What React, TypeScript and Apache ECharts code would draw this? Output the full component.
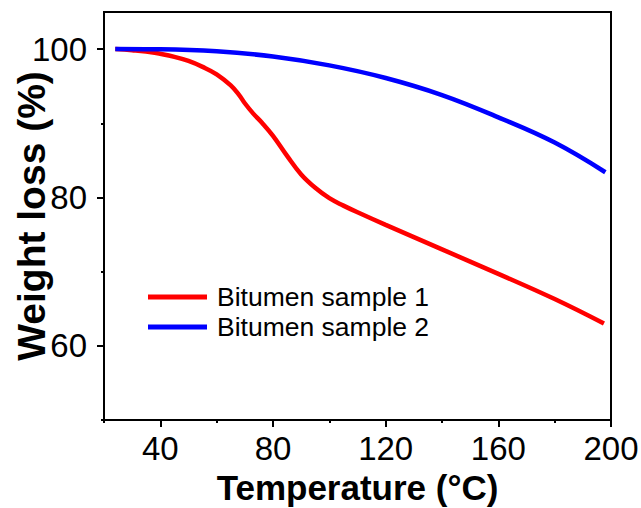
import React, { useEffect, useRef } from "react";
import * as echarts from "echarts";

const sample1Temp = [24, 30, 38, 45, 50, 55, 60, 65, 68, 70, 73, 76, 80, 85, 90, 95, 100, 105, 110, 120, 140, 160, 180, 197.5];
const sample1Weight = [100, 99.85, 99.5, 98.95, 98.4, 97.6, 96.6, 95.1, 93.8, 92.7, 91.3, 90.1, 88.3, 85.6, 83.1, 81.3, 79.9, 78.9, 78.0, 76.3, 73.0, 69.7, 66.3, 63.0];
const sample2Temp = [24, 40, 60, 80, 100, 120, 140, 160, 180, 198];
const sample2Weight = [100, 99.97, 99.7, 99.0, 97.8, 96.1, 93.8, 90.8, 87.4, 83.4];
const seriesNames = ["Bitumen sample 1", "Bitumen sample 2"];
const xMajor = [40, 80, 120, 160, 200];
const xMinor = [20, 60, 100, 140, 180];
const yMajor = [60, 80, 100];
const yMinor = [50, 70, 90];

const FONT = "'Liberation Sans', Arial, Helvetica, sans-serif";

export default function App() {
  const ref = useRef<HTMLDivElement>(null);
  useEffect(() => {
    if (!ref.current) return;
    const chart = echarts.init(ref.current, undefined, { renderer: "svg" });
    const axisLine = { show: true, lineStyle: { color: "#000", width: 2 } };
    const xBase = { type: "value", min: 20, max: 200, splitLine: { show: false }, axisLine };
    const yBase = { type: "value", min: 50, max: 105, splitLine: { show: false }, axisLine };
    chart.setOption({
      animation: false,
      grid: { left: 104, right: 30, top: 12, bottom: 88, containLabel: false, outerBoundsMode: "none", show: true, borderColor: "#000", borderWidth: 2, backgroundColor: "transparent" },
      legend: {
        orient: "vertical",
        left: 148,
        top: 282,
        padding: 0,
        itemGap: 0,
        icon: "rect",
        itemWidth: 59,
        itemHeight: 5,
        data: seriesNames,
        textStyle: { fontFamily: FONT, fontSize: 26.5, color: "#000", lineHeight: 30, padding: [0, 0, 0, 5] },
      },
      xAxis: [
        {
          ...xBase,
          position: "bottom",
          name: "Temperature (°C)",
          nameLocation: "middle",
          nameGap: 50,
          nameMoveOverlap: false,
          nameTextStyle: { fontFamily: FONT, fontSize: 35, fontWeight: "bold", color: "#000" },
          axisTick: { show: true, length: 7, lineStyle: { color: "#000", width: 2 }, customValues: xMajor },
          axisLabel: { show: true, customValues: xMajor, margin: 12, fontFamily: FONT, fontSize: 33, color: "#000" },
        },
        {
          ...xBase,
          position: "bottom",
          axisTick: { show: true, length: 3, lineStyle: { color: "#000", width: 2 }, customValues: xMinor },
          axisLabel: { show: false },
        },
      ],
      yAxis: [
        {
          ...yBase,
          position: "left",
          name: "Weight loss (%)",
          nameLocation: "middle",
          nameGap: 53,
          nameMoveOverlap: false,
          nameTextStyle: { fontFamily: FONT, fontSize: 39, fontWeight: "bold", color: "#000" },
          axisTick: { show: true, length: 7, lineStyle: { color: "#000", width: 2 }, customValues: yMajor },
          axisLabel: { show: true, customValues: yMajor, margin: 17, fontFamily: FONT, fontSize: 33, color: "#000" },
        },
        {
          ...yBase,
          position: "left",
          axisTick: { show: true, length: 3, lineStyle: { color: "#000", width: 2 }, customValues: yMinor },
          axisLabel: { show: false },
        },
      ],
      series: [
        {
          name: seriesNames[0],
          type: "line",
          smooth: 0.4,
          showSymbol: false,
          color: "#ff0000",
          lineStyle: { color: "#ff0000", width: 4.5 },
          data: sample1Temp.map((t, i) => [t, sample1Weight[i]]),
        },
        {
          name: seriesNames[1],
          type: "line",
          smooth: 0.4,
          showSymbol: false,
          color: "#0000ff",
          lineStyle: { color: "#0000ff", width: 4.5 },
          data: sample2Temp.map((t, i) => [t, sample2Weight[i]]),
        },
      ],
    });
    return () => chart.dispose();
  }, []);
  return <div ref={ref} style={{ width: 641, height: 508, position: "absolute", left: 0, top: 0 }} />;
}
